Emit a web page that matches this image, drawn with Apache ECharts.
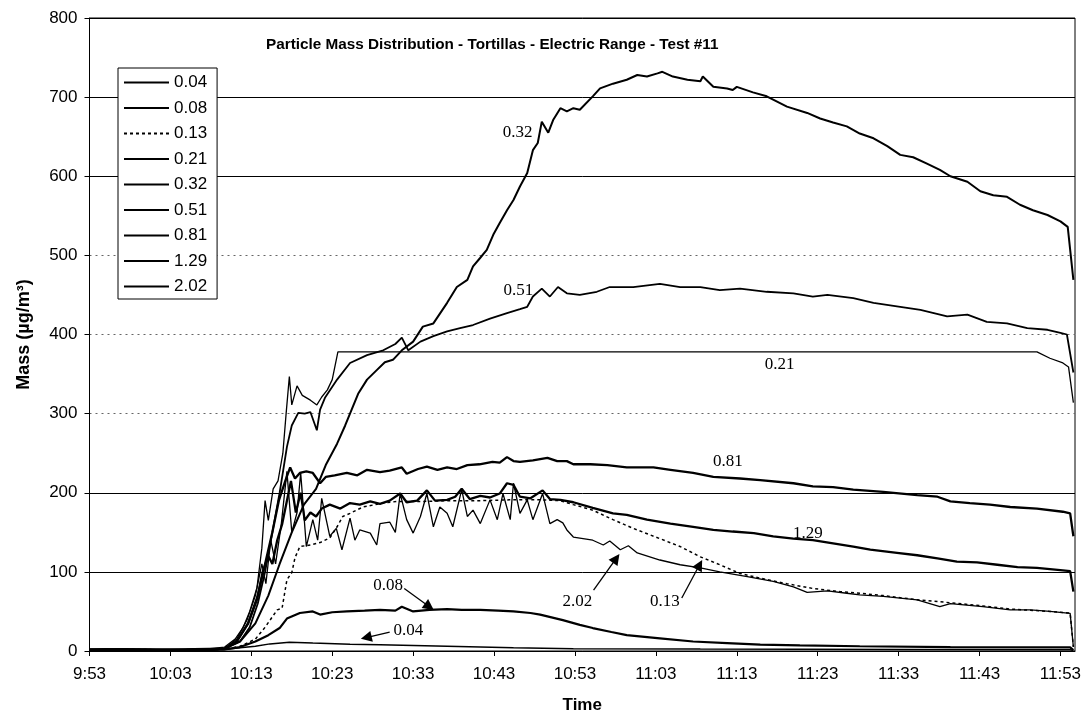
<!DOCTYPE html>
<html>
<head>
<meta charset="utf-8">
<script src="https://cdn.jsdelivr.net/npm/echarts@6/dist/echarts.min.js"></script>
<style>
  html, body { margin: 0; padding: 0; background: #fff; }
  #chart { width: 1092px; height: 722px; }
</style>
</head>
<body>
<div id="chart"></div>
<script>
// Time is measured in minutes elapsed since 9:53.
const tickMinutes = [0, 10, 20, 30, 40, 50, 60, 70, 80, 90, 100, 110, 120];
const tickLabels = ['9:53', '10:03', '10:13', '10:23', '10:33', '10:43', '10:53',
                    '11:03', '11:13', '11:23', '11:33', '11:43', '11:53'];
const timeMax = 121.8;

// Particle size channels (µm)
const sizeNames = ['0.04', '0.08', '0.13', '0.21', '0.32', '0.51', '0.81', '1.29', '2.02'];

// [minutes, mass µg/m3]
const mass004 = [[0,2],[2,3],[5,1.5],[10,1],[14,2],[16.7,2],[18.6,4],[20.5,6],[22.3,9],[24.7,11],[27.6,10],
  [32.2,8.5],[35.9,8],[44.2,6],[52.4,4],[59.8,3],[75.5,2.5],[100.2,2],[121.2,1.5],[121.6,0.5]];

const mass008 = [[0,1],[5,2],[10,1],[15,1.5],[16.7,2],[18.6,5],[20.5,12],[22.1,20],[23.5,29],[24.4,41],[26.0,48],
  [27.6,50],[28.5,46],[30.0,49],[31.8,50],[34.0,51],[35.9,52],[37.8,51],[38.6,56],[40.0,50],[42.0,52],[44.2,53],
  [46.0,52],[48.3,52],[50.5,51],[52.4,50],[54.5,48],[55.7,46],[58.5,39],[60.6,33],[62.2,29],[64.5,24],[66.4,20],
  [70.5,16],[74.6,12],[78.8,10],[82.9,8],[87.8,7],[95.2,6],[106.4,5],[121.2,4.5],[121.6,1]];

const mass013 = [[0,1],[6,2],[12,1],[16.7,2],[18.6,6],[20.5,15],[21.7,30],[23.2,52],[23.8,54],[24.4,90],[25.0,99],
  [25.4,118],[26.0,132],[27.3,134],[28.5,137],[29.7,143],[30.6,157],[31.3,170],[32.2,174],[33.8,182],[36.3,187],
  [38.0,189],[40.9,189],[44.6,190],[48.3,190],[51.9,191],[55.7,191],[58.2,190],[59.8,185],[62.2,178],[64.7,166],
  [67.2,155],[70.5,142],[73.0,132],[75.5,119],[77.9,109],[80.4,98],[82.9,92],[86.2,85],[89.4,79],[92.8,75],
  [95.2,73],[98.1,70],[102.1,65],[106.4,61],[110.4,57],[113.8,53],[118.7,50],[121.2,48],[121.6,5]];

const mass021 = [[0,2],[4,3],[9,1],[14,2],[16.7,5],[18.0,15],[19.0,30],[19.8,50],[20.7,80],[21.3,130],[21.7,190],
  [22.1,165],[22.7,205],[23.3,215],[23.9,250],[24.3,300],[24.7,347],[25.0,311],[25.65,335],[26.3,323],[27.3,317],
  [28.1,311],[28.7,321],[29.4,330],[30.0,343],[30.7,378],[117.1,378],[118.7,370],[120.3,364],[121.0,359],[121.6,314]];

const mass032 = [[0,1],[5,2],[10,1],[15,1],[16.7,3],[18.6,12],[20.5,35],[22.1,70],[23.5,110],[25.0,150],[26.5,185],
  [28.0,205],[29.2,235],[30.6,262],[31.6,285],[32.4,305],[33.2,325],[34.3,343],[35.5,355],[36.5,365],[37.5,368],
  [38.6,380],[40.0,391],[41.2,410],[42.5,414],[44.2,440],[45.4,460],[46.7,469],[47.4,486],[48.3,497],[49.1,507],
  [49.9,526],[50.7,541],[51.6,557],[52.4,570],[53.2,587],[54.1,604],[54.8,633],[55.4,642],[55.9,669],[56.7,655],
  [57.3,671],[58.2,686],[59.0,682],[59.8,686],[60.6,684],[62.2,701],[63.1,711],[64.7,717],[66.4,722],[67.7,728],
  [68.9,726],[70.2,730],[70.8,732],[72.1,726],[73.9,722],[75.5,720],[75.8,726],[77.1,713],[78.8,711],[79.5,709],
  [80.0,713],[82.0,706],[83.7,701],[86.2,688],[88.7,680],[90.3,673],[91.9,668],[93.6,663],[95.2,654],[96.9,648],
  [98.6,638],[100.2,627],[101.8,624],[103.5,616],[105.1,608],[106.4,600],[108.5,593],[110.1,581],[111.7,576],
  [113.4,574],[115.0,564],[116.6,557],[118.4,551],[120.0,543],[120.9,536],[121.6,469]];

const mass051 = [[0,2],[6,1],[12,2],[16.7,3],[18.6,12],[19.8,30],[20.8,60],[21.7,100],[22.6,150],[23.5,200],
  [24.4,258],[25.0,285],[25.8,301],[26.6,300],[27.3,302],[28.1,279],[28.5,305],[29.1,320],[30.6,343],[32.2,364],
  [34.3,374],[36.3,380],[37.8,388],[38.6,396],[39.4,380],[40.9,391],[42.5,398],[44.2,404],[45.8,408],[47.4,412],
  [49.5,420],[51.6,427],[53.2,432],[54.1,435],[54.8,448],[55.9,458],[56.9,448],[57.9,460],[59.0,452],[60.6,450],
  [62.7,454],[64.3,460],[67.2,460],[70.5,464],[73.0,460],[75.5,460],[77.9,456],[80.4,458],[83.7,454],[87.0,452],
  [89.4,448],[91.2,450],[94.4,446],[96.9,440],[100.2,435],[102.7,431],[106.0,423],[108.5,425],[110.9,416],
  [113.4,414],[115.9,408],[118.4,406],[120.0,402],[120.8,400],[121.6,352]];

const mass081 = [[0,1],[7,2],[13,1],[16.7,3],[18.2,12],[19.6,35],[20.8,70],[21.7,110],[22.6,150],[23.4,190],
  [24.2,215],[24.8,232],[25.4,218],[26.0,225],[26.8,227],[27.6,225],[28.5,212],[29.2,220],[30.3,222],[31.8,225],
  [33.1,222],[34.3,229],[35.9,226],[37.1,228],[38.6,232],[39.2,224],[40.6,230],[41.7,233],[43.0,229],[44.2,232],
  [45.4,230],[46.7,235],[48.2,236],[49.8,239],[50.7,238],[51.6,245],[52.4,240],[53.2,239],[54.8,241],[56.6,244],
  [57.8,240],[59.0,240],[59.8,236],[61.9,236],[64.0,235],[66.4,232],[69.7,232],[71.8,229],[74.6,225],[77.1,220],
  [80.4,218],[82.9,216],[87.0,212],[89.4,208],[91.9,207],[94.4,204],[98.1,201],[102.3,197],[104.8,195],[106.4,189],
  [108.8,187],[111.3,185],[113.8,182],[117.1,180],[120.3,176],[121.2,174],[121.6,145]];

const mass129 = [[0,2],[5,1],[11,2],[16.7,3],[18.2,12],[19.6,35],[20.7,65],[21.4,100],[22.1,120],[22.6,110],
  [23.2,140],[23.8,160],[24.4,190],[24.9,215],[25.5,175],[26.1,200],[26.6,165],[27.3,175],[28.0,170],[28.7,180],
  [29.7,185],[31.0,180],[32.2,187],[33.4,185],[34.7,189],[35.9,186],[37.1,190],[38.4,199],[39.2,188],[40.5,190],
  [41.7,203],[42.7,190],[44.2,191],[45.2,195],[46.0,205],[47.0,192],[48.3,196],[49.5,194],[50.7,199],[51.6,212],
  [52.4,210],[53.2,195],[54.5,193],[56.0,203],[56.9,192],[58.2,191],[59.8,188],[62.2,181],[64.7,174],[66.4,172],
  [68.9,166],[71.8,161],[74.6,157],[77.1,153],[79.5,151],[82.1,149],[84.5,145],[87.0,142],[89.4,140],[91.9,136],
  [94.4,132],[96.5,128],[99.8,124],[102.3,121],[104.8,117],[107.2,113],[109.7,112],[112.2,109],[114.7,106],
  [117.1,105],[120.3,102],[121.2,101],[121.6,75]];

const mass202 = [[0,1],[4,2],[10,1],[16.7,3],[18.2,15],[19.5,40],[20.5,70],[21.3,110],[21.8,85],[22.4,140],
  [23.0,110],[23.7,160],[24.4,227],[25.0,150],[25.65,175],[26.1,225],[26.8,132],[27.6,166],[28.2,140],[28.7,193],
  [29.7,145],[30.5,155],[31.2,128],[32.2,168],[32.8,140],[33.4,153],[34.7,149],[35.5,134],[35.9,161],[37.1,163],
  [37.8,150],[38.4,199],[39.2,166],[40.0,149],[40.9,170],[41.7,199],[42.5,157],[43.3,182],[44.2,174],[44.9,157],
  [46.0,204],[46.7,170],[47.4,178],[48.3,161],[49.5,191],[50.4,166],[51.1,199],[52.0,166],[52.4,212],[53.2,174],
  [54.1,191],[54.8,166],[56.0,199],[56.9,161],[57.8,166],[58.5,162],[59.0,153],[59.8,144],[62.2,140],[63.5,134],
  [64.3,139],[65.6,128],[66.6,133],[67.7,124],[70.5,115],[73.0,109],[75.5,105],[77.9,100],[81.3,94],[84.5,88],
  [87.0,81],[88.7,74],[91.2,76],[93.6,73],[95.2,71],[98.1,69],[102.3,64.5],[105.1,56],[106.4,60],[110.4,56],
  [113.8,52],[116.3,52],[118.7,50],[121.2,47.5],[121.6,5]];

// In-plot callouts: text position [minutes, mass]
const calloutText = {
  '0.32': [52.9, 655], '0.51': [53.0, 455], '0.21': [85.3, 362], '0.81': [78.9, 240],
  '1.29': [88.8, 149], '2.02': [60.3, 62], '0.13': [71.1, 62], '0.08': [36.9, 83], '0.04': [39.4, 26]
};
// Callout arrows: [tail, head]
const calloutArrow = {
  '0.08': [[38.9, 79], [42.0, 56]],
  '0.04': [[37.1, 24], [34.2, 17]],
  '2.02': [[62.3, 77], [65.1, 117]],
  '0.13': [[73.2, 67], [75.4, 109]]
};

const seriesData = [mass004, mass008, mass013, mass021, mass032, mass051, mass081, mass129, mass202];
const lineWidths = [1.5, 2.2, 1.5, 1.3, 2, 1.8, 2.3, 2.3, 1.3];
const lineTypes = ['solid', 'solid', [3, 3], 'solid', 'solid', 'solid', 'solid', 'solid', 'solid'];

const sans = 'Liberation Sans, Arial, sans-serif';
const serif = 'Liberation Serif, Times New Roman, serif';
const clear = 'rgba(0,0,0,0)';

const series = sizeNames.map((name, i) => {
  const s = {
    name: name,
    type: 'line',
    data: seriesData[i],
    symbol: 'none',
    showSymbol: false,
    yAxisIndex: 0,
    lineStyle: { color: '#000', width: lineWidths[i], type: lineTypes[i] },
    itemStyle: { color: '#000' },
    emphasis: { disabled: true },
    markPoint: {
      silent: true,
      symbol: 'rect',
      symbolSize: 1,
      itemStyle: { color: clear },
      label: { show: true, position: 'inside', formatter: name, color: '#000',
               fontFamily: serif, fontSize: 17 },
      data: [{ coord: calloutText[name] }]
    }
  };
  if (calloutArrow[name]) {
    const a = calloutArrow[name];
    s.markLine = {
      silent: true,
      symbol: ['none', 'triangle'],
      symbolSize: 11,
      label: { show: false },
      lineStyle: { color: '#000', width: 1.3, type: 'solid' },
      itemStyle: { color: '#000' },
      data: [[{ coord: a[0] }, { coord: a[1] }]]
    };
  }
  return s;
});

const chart = echarts.init(document.getElementById('chart'));
chart.setOption({
  animation: false,
  backgroundColor: '#fff',
  title: {
    text: 'Particle Mass Distribution - Tortillas - Electric Range - Test #11',
    left: 266, top: 37, padding: 0,
    textStyle: { fontFamily: sans, fontSize: 15.3, fontWeight: 'bold', color: '#000' }
  },
  legend: {
    data: sizeNames,
    orient: 'vertical',
    left: 118, top: 68,
    itemWidth: 45, itemHeight: 14, itemGap: 8.5,
    padding: [6, 10, 4, 5],
    backgroundColor: '#fff',
    borderColor: '#000', borderWidth: 1,
    itemStyle: { color: clear, borderColor: clear, borderWidth: 0 },
    textStyle: { fontFamily: sans, fontSize: 17, color: '#000', lineHeight: 17 },
    selectedMode: false
  },
  grid: {
    left: 89.5, right: 17, top: 18, bottom: 71,
    show: true, borderColor: '#000', borderWidth: 1
  },
  xAxis: {
    type: 'value', min: 0, max: timeMax, interval: 10,
    name: 'Time', nameLocation: 'middle', nameGap: 46,
    nameTextStyle: { fontFamily: sans, fontSize: 17, fontWeight: 'bold', color: '#000' },
    axisLine: { lineStyle: { color: '#000', width: 1 } },
    axisTick: { show: true, length: 5, customValues: tickMinutes, lineStyle: { color: '#000' } },
    axisLabel: {
      customValues: tickMinutes, margin: 15,
      fontFamily: sans, fontSize: 17, color: '#000',
      formatter: v => tickLabels[tickMinutes.indexOf(Math.round(v))] || ''
    },
    splitLine: { show: false }
  },
  yAxis: [{
    type: 'value', min: 0, max: 800, interval: 100,
    name: 'Mass (µg/m³)', nameLocation: 'middle', nameGap: 56, nameRotate: 90,
    nameTextStyle: { fontFamily: sans, fontSize: 18, fontWeight: 'bold', color: '#000' },
    axisLine: { show: true, lineStyle: { color: '#000', width: 1 } },
    axisTick: { show: true, length: 5, lineStyle: { color: '#000' } },
    axisLabel: { margin: 12, fontFamily: sans, fontSize: 17, color: '#000' },
    splitLine: { show: true, lineStyle: { width: 1,
      color: ['#000', '#000', '#000', clear, clear, clear, '#000', '#000', '#000'] } }
  }, {
    // lighter dotted rules at 300-500
    type: 'value', min: 0, max: 800, interval: 100, position: 'left',
    axisLine: { show: false }, axisTick: { show: false }, axisLabel: { show: false },
    splitLine: { show: true, lineStyle: { width: 1, type: [2, 4],
      color: [clear, clear, clear, '#666', '#666', '#666', clear, clear, clear] } }
  }],
  series: series
});
</script>
</body>
</html>
